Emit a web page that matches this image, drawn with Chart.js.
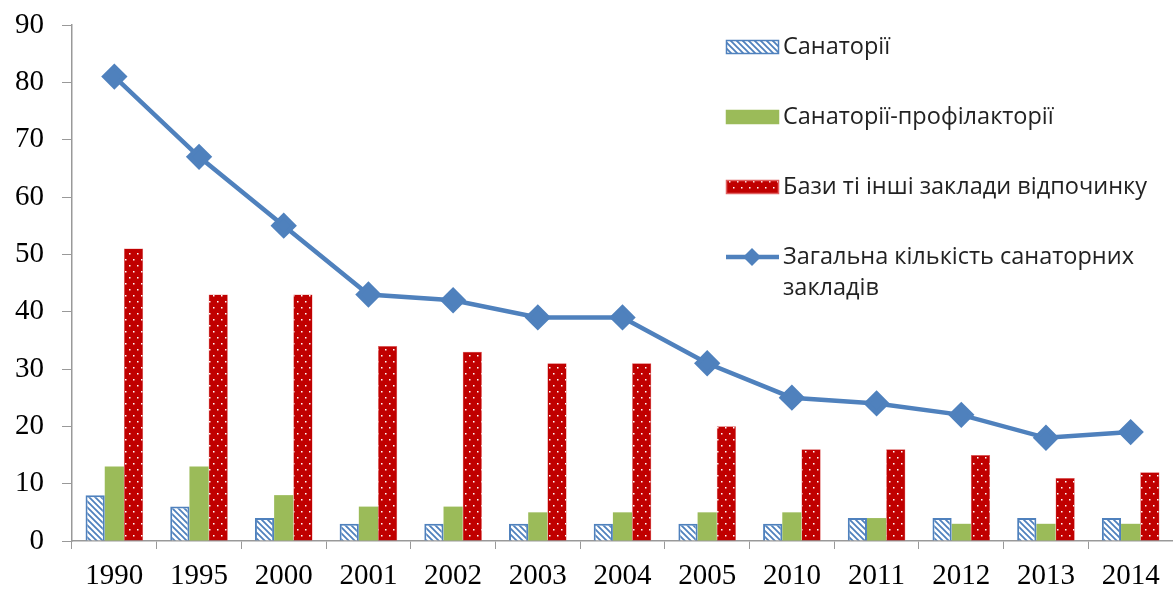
<!DOCTYPE html>
<html>
<head>
<meta charset="utf-8">
<script src="https://cdn.jsdelivr.net/npm/chart.js@4/dist/chart.umd.min.js"></script>
<style>
  html, body { margin: 0; padding: 0; background: #fff; }
  #wrap { width: 1173px; height: 592px; position: relative; }
</style>
</head>
<body>
<div id="wrap"><canvas id="chart" width="1173" height="592"></canvas></div>
<script>
const years = ['1990', '1995', '2000', '2001', '2002', '2003', '2004', '2005', '2010', '2011', '2012', '2013', '2014'];
const sanatorii = [8, 6, 4, 3, 3, 3, 3, 3, 3, 4, 4, 4, 4];
const profilaktorii = [13, 13, 8, 6, 6, 5, 5, 5, 5, 4, 3, 3, 3];
const bazy = [51, 43, 43, 34, 33, 31, 31, 20, 16, 16, 15, 11, 12];
const total = [81, 67, 55, 43, 42, 39, 39, 31, 25, 24, 22, 18, 19];

const blue = '#4F81BD';
const green = '#9BBB59';
const red = '#C00000';

function hatchPattern() {
    const c = document.createElement('canvas');
    c.width = 6; c.height = 6;
    const g = c.getContext('2d');
    g.fillStyle = '#fff';
    g.fillRect(0, 0, 6, 6);
    g.strokeStyle = blue;
    g.lineWidth = 1.8;
    g.beginPath();
    g.moveTo(-1, -1); g.lineTo(7, 7);
    g.moveTo(-4, 2); g.lineTo(4, 10);
    g.moveTo(2, -4); g.lineTo(10, 4);
    g.stroke();
    return g.createPattern(c, 'repeat');
}

function dotPattern() {
    const c = document.createElement('canvas');
    c.width = 8; c.height = 12;
    const g = c.getContext('2d');
    g.fillStyle = red;
    g.fillRect(0, 0, 8, 12);
    g.fillStyle = '#fff';
    g.fillRect(1, 1, 1.5, 1.5);
    g.fillRect(5, 7, 1.5, 1.5);
    return g.createPattern(c, 'repeat');
}

const hatch = hatchPattern();
const dots = dotPattern();

// legend drawn inside the plot, top right
const innerLegend = {
    id: 'innerLegend',
    afterDraw(chart) {
        const ctx = chart.ctx;
        const x0 = 726, sw = 53;
        const rows = [47, 117, 187, 257];
        ctx.save();
        ctx.font = '23.5px "Open Sans", sans-serif';
        ctx.textBaseline = 'middle';
        ctx.fillStyle = '#222';
        chart.data.datasets.forEach((ds, i) => {
            const y = rows[i];
            if (ds.type === 'line') {
                ctx.strokeStyle = blue;
                ctx.lineWidth = 4.5;
                ctx.beginPath();
                ctx.moveTo(x0, y); ctx.lineTo(x0 + sw, y);
                ctx.stroke();
                ctx.fillStyle = blue;
                ctx.beginPath();
                ctx.moveTo(x0 + 26, y - 9); ctx.lineTo(x0 + 35, y);
                ctx.lineTo(x0 + 26, y + 9); ctx.lineTo(x0 + 17, y);
                ctx.closePath();
                ctx.fill();
                ctx.fillStyle = '#222';
                ctx.fillText('Загальна кількість санаторних', x0 + 57, y);
                ctx.fillText('закладів', x0 + 57, y + 31);
            } else {
                ctx.fillStyle = ds.backgroundColor;
                ctx.fillRect(x0, y - 7, sw, 14);
                ctx.strokeStyle = ds.borderColor;
                ctx.lineWidth = 1.5;
                ctx.strokeRect(x0 + 0.5, y - 6.5, sw - 1, 13);
                ctx.fillStyle = '#222';
                ctx.fillText(ds.label, x0 + 57, y);
            }
        });
        ctx.restore();
    }
};

new Chart(document.getElementById('chart'), {
    data: {
        labels: years,
        datasets: [
            { type: 'bar', label: 'Санаторії', data: sanatorii, backgroundColor: hatch, borderColor: blue, borderWidth: 2, order: 1 },
            { type: 'bar', label: 'Санаторії-профілакторії', data: profilaktorii, backgroundColor: green, borderColor: green, borderWidth: 0, order: 1 },
            { type: 'bar', label: 'Бази ті інші заклади відпочинку', data: bazy, backgroundColor: dots, borderColor: '#E06060', borderWidth: 0.5, order: 1 },
            { type: 'line', label: 'Загальна кількість санаторних закладів', data: total, borderColor: blue, backgroundColor: blue,
              borderWidth: 4.5, pointStyle: 'rectRot', pointRadius: 10, pointHoverRadius: 10, tension: 0, order: 0, clip: false }
        ]
    },
    options: {
        responsive: false,
        animation: false,
        layout: { autoPadding: false, padding: { top: 25, right: 0, left: 0, bottom: 0 } },
        datasets: { bar: { categoryPercentage: 0.68, barPercentage: 1.0 } },
        plugins: { legend: { display: false }, tooltip: { enabled: false } },
        scales: {
            x: {
                grid: { drawOnChartArea: false, color: '#999', tickLength: 8, offset: true },
                border: { color: '#999', width: 1.5 },
                ticks: { color: '#000', font: { family: '"Liberation Serif", serif', size: 29 }, padding: 10, maxRotation: 0, autoSkip: false },
                afterFit(s) { s.height = 51; s.paddingLeft = 0; s.paddingRight = 0; }
            },
            y: {
                min: 0, max: 90,
                grid: { drawOnChartArea: false, color: '#999', tickLength: 10 },
                border: { color: '#999', width: 1.5 },
                ticks: { stepSize: 10, color: '#000', font: { family: '"Liberation Serif", serif', size: 29 }, padding: 18 },
                afterFit(s) { s.width = 72; s.paddingTop = 0; s.paddingBottom = 0; }
            }
        }
    },
    plugins: [innerLegend]
});
</script>
</body>
</html>
